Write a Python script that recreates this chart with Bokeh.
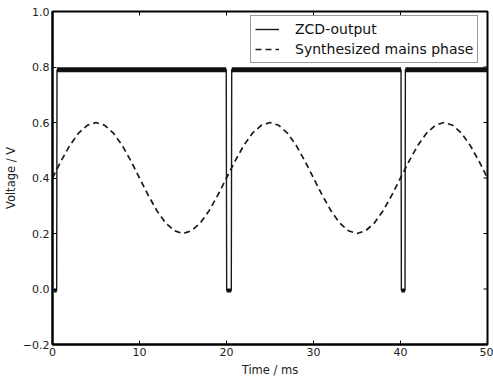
import math
from bokeh.plotting import figure
from bokeh.models import Range1d, FixedTicker, Legend, LegendItem, ColumnDataSource
from bokeh.embed import file_html
from bokeh.resources import INLINE

# ZCD output (square wave), time in ms, voltage in V
zcd_t = [0.15, 0.48, 0.52, 19.97, 20.02, 20.55, 20.6, 40.06, 40.1, 40.52, 40.56, 50.0]
zcd_v = [-0.005, -0.005, 0.79, 0.79, -0.005, -0.005, 0.79, 0.79, -0.005, -0.005, 0.79, 0.79]

# Synthesized mains phase (dashed), read every 1 ms
phase_t = list(range(0, 51))
phase_v = [0.400, 0.462, 0.518, 0.562, 0.590, 0.600, 0.590, 0.562, 0.518, 0.462,
           0.400, 0.338, 0.282, 0.238, 0.210, 0.200, 0.210, 0.238, 0.282, 0.338,
           0.400, 0.462, 0.518, 0.562, 0.590, 0.600, 0.590, 0.562, 0.518, 0.462,
           0.400, 0.338, 0.282, 0.238, 0.210, 0.200, 0.210, 0.238, 0.282, 0.338,
           0.400, 0.462, 0.518, 0.562, 0.590, 0.600, 0.590, 0.562, 0.518, 0.462,
           0.400]

x_ticks = [0, 10, 20, 30, 40, 50]
x_tick_labels = ["0", "10", "20", "30", "40", "50"]
y_ticks = [-0.2, 0.0, 0.2, 0.4, 0.6, 0.8, 1.0]
y_tick_labels = ["\u22120.2", "0.0", "0.2", "0.4", "0.6", "0.8", "1.0"]

legend_labels = ["ZCD-output", "Synthesized mains phase"]

X_MIN, X_MAX = 0, 50
Y_MIN, Y_MAX = -0.2, 1.0

FONT = "DejaVu Sans"

p = figure(width=493, height=379, x_range=Range1d(X_MIN, X_MAX), y_range=Range1d(Y_MIN, Y_MAX),
           output_backend="svg", toolbar_location=None,
           min_border_left=52, min_border_right=6, min_border_top=11, min_border_bottom=34,
           x_axis_label="Time / ms", y_axis_label="Voltage / V")
p.xgrid.visible = False
p.ygrid.visible = False
p.outline_line_color = "black"
p.outline_line_width = 2
p.background_fill_color = "white"
p.border_fill_color = "white"

p.xaxis.ticker = FixedTicker(ticks=x_ticks)
p.xaxis.major_label_overrides = {t: l for t, l in zip(x_ticks, x_tick_labels)}
p.yaxis.ticker = FixedTicker(ticks=y_ticks)
p.yaxis.major_label_overrides = {t: l for t, l in zip(y_ticks, y_tick_labels)}

for ax in p.axis:
    ax.axis_line_color = "black"
    ax.axis_line_width = 2
    ax.major_tick_in = 4
    ax.major_tick_out = 0
    ax.major_tick_line_color = "black"
    ax.major_tick_line_width = 1
    ax.minor_tick_line_color = None
    ax.major_label_text_font = FONT
    ax.major_label_text_font_size = "11px"
    ax.major_label_text_color = "#222222"
    ax.major_label_standoff = 3
    ax.axis_label_text_font = FONT
    ax.axis_label_text_font_size = "11.5px"
    ax.axis_label_text_font_style = "normal"
    ax.axis_label_text_color = "#222222"
p.xaxis.axis_label_standoff = 4
p.yaxis.axis_label_standoff = 2

# inward ticks on the top and right edges of the frame
p.ray(x=x_ticks, y=[Y_MAX] * len(x_ticks), length=4, length_units="screen",
      angle=-math.pi / 2, line_color="black", line_width=1)
p.ray(x=[X_MAX] * len(y_ticks), y=y_ticks, length=4, length_units="screen",
      angle=math.pi, line_color="black", line_width=1)

# data
src_zcd = ColumnDataSource(dict(t=zcd_t, v=zcd_v))
src_ph = ColumnDataSource(dict(t=phase_t, v=phase_v))

hi_x0, hi_x1, hi_y, lo_x0, lo_x1, lo_y = [], [], [], [], [], []
for i in range(len(zcd_t) - 1):
    if zcd_v[i] == zcd_v[i + 1]:
        if zcd_v[i] > 0.4:
            hi_x0.append(zcd_t[i]); hi_x1.append(zcd_t[i + 1]); hi_y.append(zcd_v[i])
        else:
            lo_x0.append(zcd_t[i]); lo_x1.append(zcd_t[i + 1]); lo_y.append(zcd_v[i])

r_zcd = p.line("t", "v", source=src_zcd, line_color="#1a1a1a", line_width=1.4)
p.segment(x0=hi_x0, x1=hi_x1, y0=hi_y, y1=hi_y, line_color="#111111", line_width=5)
p.segment(x0=lo_x0, x1=lo_x1, y0=lo_y, y1=lo_y, line_color="#111111", line_width=4)
r_ph = p.line("t", "v", source=src_ph, line_color="#1a1a1a", line_width=1.7, line_dash="6 4")

legend = Legend(items=[LegendItem(label=legend_labels[0], renderers=[r_zcd]),
                       LegendItem(label=legend_labels[1], renderers=[r_ph])],
                location=(198, 281))
legend.label_text_font = FONT
legend.label_text_font_size = "14px"
legend.label_text_color = "#111111"
legend.border_line_color = "#333333"
legend.border_line_width = 1
legend.background_fill_color = "white"
legend.background_fill_alpha = 1.0
legend.padding = 4
legend.spacing = 2
legend.label_height = 18
legend.glyph_height = 18
legend.glyph_width = 24
legend.label_standoff = 16
legend.margin = 0
p.add_layout(legend)

open("out.html", "w").write(file_html(p, INLINE))
